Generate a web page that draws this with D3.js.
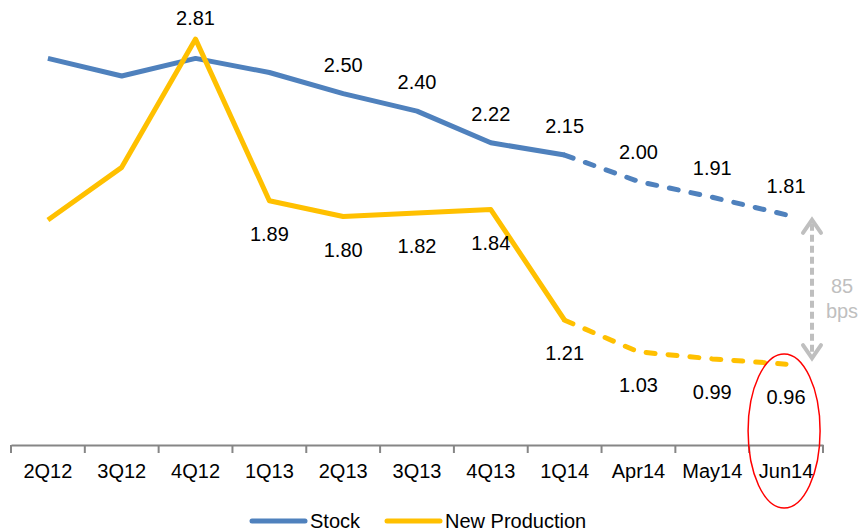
<!DOCTYPE html>
<html>
<head>
<meta charset="utf-8">
<script src="https://cdn.jsdelivr.net/npm/d3@7"></script>
<style>
  html, body { margin: 0; padding: 0; background: #fff; }
  svg { display: block; font-family: "Liberation Sans", Arial, sans-serif; }
</style>
</head>
<body>
<div id="chart"></div>
<script>
/* 数据 */
const categories = ['2Q12','3Q12','4Q12','1Q13','2Q13','3Q13','4Q13','1Q14','Apr14','May14','Jun14'];
const stockValues = [2.70, 2.60, 2.70, 2.62, 2.50, 2.40, 2.22, 2.15, 2.00, 1.91, 1.81];
const newProdValues = [1.78, 2.08, 2.81, 1.89, 1.80, 1.82, 1.84, 1.21, 1.03, 0.99, 0.96];
const stockLabelled = [false, false, false, false, true, true, true, true, true, true, true];
const newProdLabelled = [false, false, true, true, true, true, true, true, true, true, true];
const solidUntil = 7; // 1Q14 之后为预测，用虚线
const series = [
  { name: 'Stock', values: stockValues, labelled: stockLabelled, color: '#4F81BD' },
  { name: 'New Production', values: newProdValues, labelled: newProdLabelled, color: '#FFC000' }
];

const W = 861, H = 532, FS = 20;
const svg = d3.select('#chart').append('svg').attr('width', W).attr('height', H);

const x = d3.scaleBand().domain(categories).range([11, 823]).padding(0);
const y = d3.scaleLinear().domain([0.5, 3.0]).range([445, 5.7]);
const cx = c => x(c) + x.bandwidth() / 2;

/* x 轴 */
const axisG = svg.append('g').attr('transform', `translate(0,${y(0.5)})`);
axisG.call(d3.axisBottom(x).tickSize(0).tickPadding(19))
  .call(g => g.select('.domain').attr('stroke', '#868686').attr('stroke-width', 2))
  .call(g => g.selectAll('text').attr('font-size', FS).attr('fill', '#000')
    .attr('font-family', '"Liberation Sans", Arial, sans-serif'));
const edges = categories.map(c => x(c)).concat([x.range()[1]]);
axisG.selectAll('line.edge').data(edges).join('line').attr('class', 'edge')
  .attr('x1', d => d).attr('x2', d => d).attr('y1', 0).attr('y2', 8)
  .attr('stroke', '#868686').attr('stroke-width', 2);

/* 线 */
const line = d3.line().x(d => cx(d.c)).y(d => y(d.v));
series.forEach(s => {
  const pts = s.values.map((v, i) => ({ c: categories[i], v }));
  svg.append('path').datum(pts.slice(0, solidUntil + 1)).attr('d', line)
    .attr('fill', 'none').attr('stroke', s.color).attr('stroke-width', 5)
    .attr('stroke-linejoin', 'round');
  svg.append('path').datum(pts.slice(solidUntil)).attr('d', line)
    .attr('fill', 'none').attr('stroke', s.color).attr('stroke-width', 5)
    .attr('stroke-linecap', 'round').attr('stroke-dasharray', '9,13');
});

/* 数据标签 */
series.forEach((s, si) => {
  s.values.forEach((v, i) => {
    if (!s.labelled[i]) return;
    const above = si === 0 || v > stockValues[i];
    svg.append('text')
      .attr('x', cx(categories[i]))
      .attr('y', y(v) + (above ? (si === 0 ? -22 : -14) : 40))
      .attr('text-anchor', 'middle').attr('font-size', FS).attr('fill', '#000')
      .text(v.toFixed(2));
  });
});

/* 85 bps 标注 */
const last = categories[categories.length - 1];
const ax = 812;
const y1 = y(stockValues[10]) + 5, y2 = y(newProdValues[10]) - 6;
const grey = '#BFBFBF';
svg.append('line').attr('x1', ax).attr('x2', ax).attr('y1', y1 + 4).attr('y2', y2 - 4)
  .attr('stroke', grey).attr('stroke-width', 4).attr('stroke-dasharray', '7,4');
svg.append('path').attr('d', `M${ax - 9},${y1 + 13}L${ax},${y1}L${ax + 9},${y1 + 13}`)
  .attr('fill', 'none').attr('stroke', grey).attr('stroke-width', 4).attr('stroke-linecap', 'round');
svg.append('path').attr('d', `M${ax - 9},${y2 - 13}L${ax},${y2}L${ax + 9},${y2 - 13}`)
  .attr('fill', 'none').attr('stroke', grey).attr('stroke-width', 4).attr('stroke-linecap', 'round');
svg.append('text').attr('x', 842).attr('y', 293).attr('text-anchor', 'middle')
  .attr('font-size', FS).attr('fill', grey).text('85');
svg.append('text').attr('x', 842).attr('y', 318).attr('text-anchor', 'middle')
  .attr('font-size', FS).attr('fill', grey).text('bps');

/* 红圈 */
svg.append('ellipse').attr('cx', cx(last) - 2).attr('cy', 431).attr('rx', 36).attr('ry', 77)
  .attr('fill', 'none').attr('stroke', '#FF0000').attr('stroke-width', 1.5);

/* 图例 */
const legend = svg.append('g').attr('transform', 'translate(252,521)');
const legendX = [0, 135];
series.forEach((s, i) => {
  const g = legend.append('g').attr('transform', `translate(${legendX[i]},0)`);
  g.append('line').attr('x1', 0).attr('x2', 53).attr('stroke', s.color)
    .attr('stroke-width', 5).attr('stroke-linecap', 'round');
  g.append('text').attr('x', 58).attr('y', 7).attr('font-size', FS).attr('fill', '#000').text(s.name);
});
</script>
</body>
</html>
